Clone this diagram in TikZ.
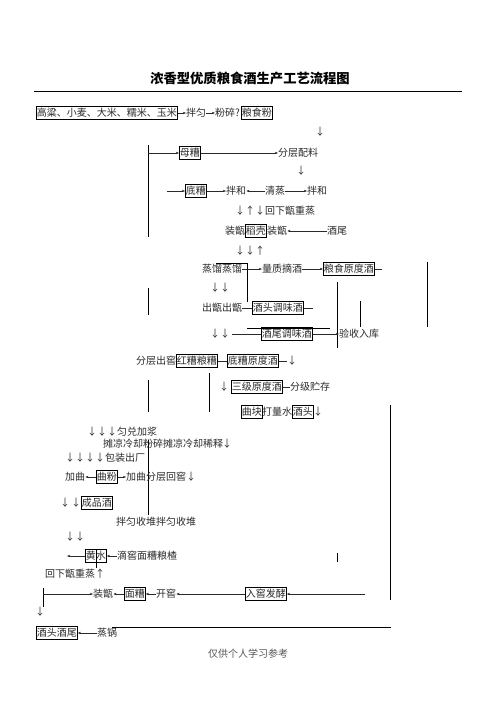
\documentclass[tikz,border=0pt]{standalone}
\usepackage{fontspec}
\setmainfont{Noto Sans CJK SC}
\usetikzlibrary{arrows.meta}
\definecolor{ink}{HTML}{2A2A2A}
\definecolor{foot}{HTML}{555555}
\tikzset{
  every node/.style={font=\fontsize{10bp}{12bp}\selectfont, text=ink},
  txt/.style={anchor=west, inner sep=0pt, text height=8.5bp, text depth=1.5bp},
  bx/.style={txt, draw=black, line width=0.75pt, inner xsep=0.5bp, inner ysep=1.2bp},
  glyph/.style={inner sep=0pt, text height=8.5bp, text depth=1.5bp},
  arr/.style={draw=ink, line width=0.45pt, -{Stealth[length=3.2bp,width=2.4bp]}},
  ln/.style={draw=ink, line width=0.45pt},
  bar/.style={draw=black, line width=0.9pt}
}
\begin{document}
\begin{tikzpicture}[x=1bp, y=-1bp]
\useasboundingbox (0,0) rectangle (496,702);
% title
\node[font=\bfseries\fontsize{13.3bp}{15bp}\selectfont, text=black] (title) at (250,78) {浓香型优质粮食酒生产工艺流程图};
\draw[line width=0.9pt] (34,91) -- (462,91);

% row 1
\node[bx] (grain) at (36,113) {高粱、小麦、大米、糯米、玉米};
\node[txt] (banyun) at (186,113) {拌匀};
\node[txt] (fensui) at (215,113) {粉碎?};
\node[bx] (lsf) at (241,113) {粮食粉};
\draw[arr] (grain.east) -- (banyun.west);
\draw[arr] (banyun.east) -- (fensui.west);
\node[glyph] (d1) at (320,132) {↓};

% row 2
\draw[bar] (148,145) -- (148,237);
\coordinate (m0) at (148,153);
\node[bx] (muzao) at (179,153) {母糟};
\node[txt] (fcpl) at (278,153) {分层配料};
\draw[arr] (m0) -- (muzao.west);
\draw[arr] (muzao.east) -- (fcpl.west);
\node[glyph] (d2) at (301,171) {↓};

% row 3
\coordinate (dz0) at (167,191);
\node[bx] (dizao) at (185,191) {底糟};
\node[txt] (bh1) at (226,191) {拌和};
\node[txt] (qz) at (265,191) {清蒸};
\node[txt] (bh2) at (307,191) {拌和};
\draw[arr] (dz0) -- (dizao.west);
\draw[arr] (dizao.east) -- (bh1.west);
\draw[arr] (qz.west) -- (bh1.east);
\draw[arr] (qz.east) -- (bh2.west);

% row 4
\node[glyph] (a41) at (240,211) {↓};
\node[glyph] (a42) at (250,211) {↑};
\node[glyph] (a43) at (260,211) {↓};
\node[txt] (hxzz1) at (265,211) {回下甑重蒸};

% row 5
\node[txt] (zz1) at (225,231) {装甑};
\node[bx] (dk) at (245,231) {稻壳};
\node[txt] (zz2) at (267,231) {装甑};
\node[txt] (jw) at (327,231) {酒尾};
\draw[arr] (jw.west) -- (zz2.east);

% row 6
\node[glyph] (a61) at (240,251) {↓};
\node[glyph] (a62) at (250,251) {↓};
\node[glyph] (a63) at (260,251) {↑};

% row 7
\node[txt] (zl) at (202,269) {蒸馏蒸馏};
\draw[bar, line width=0.7pt] (216,263) -- (247,263) -- (247,302);
\node[txt] (lzzj) at (262,269) {量质摘酒};
\node[bx] (lsyd) at (323,269) {粮食原度酒};
\coordinate (lsyd1) at (382,269);
\draw[arr] (zl.east) -- (lzzj.west);
\draw[arr] (lzzj.east) -- (lsyd.west);
\draw[ln] (lsyd.east) -- (lsyd1);

% row 8
\node[glyph] (a81) at (215,288) {↓};
\node[glyph] (a82) at (225,288) {↓};
\draw[bar] (148,288) -- (148,315);

% row 9
\node[txt] (cz) at (202,308) {出甑出甑};
\node[bx] (jttw) at (252,308) {酒头调味酒};
\coordinate (jttw1) at (313,308);
\draw[ln] (cz.east) -- (jttw.west);
\draw[ln] (jttw.east) -- (jttw1);

% right verticals
\draw[bar] (337,282) -- (337,348);
\draw[bar] (360,301) -- (360,327);
\draw[bar] (427,262) -- (427,327);

% row 10
\node[glyph] (a101) at (215,334) {↓};
\node[glyph] (a102) at (225,334) {↓};
\coordinate (jwt0) at (232,334);
\node[bx] (jwtw) at (261,334) {酒尾调味酒};
\node[txt] (ysrk) at (339,334) {验收入库};
\draw[ln] (jwt0) -- (jwtw.west);
\draw[arr] (jwtw.east) -- (ysrk.west);
\draw[bar, line width=0.7pt] (247,328) -- (330,328);

% row 11
\node[txt] (fccj) at (136,361) {分层出窖};
\node[bx] (hzlz) at (176,361) {红糟粮糟};
\node[bx] (dzyd) at (227,361) {底糟原度酒};
\node[glyph] (a111) at (292,361) {↓};
\draw[ln] (hzlz.east) -- (dzyd.west);
\draw[ln] (dzyd.east) -- (287,361);
\draw[bar] (209,373) -- (209,412);
\draw[bar] (148,380) -- (148,412);

% row 12
\node[glyph] (a121) at (224,387) {↓};
\node[bx] (sjyd) at (231,387) {三级原度酒};
\node[txt] (fjzc) at (290,387) {分级贮存};
\draw[ln] (sjyd.east) -- (fjzc.west);

% row 13
\node[bx] (qk) at (241,412) {曲块};
\node[txt] (dls) at (262,412) {打量水};
\node[bx] (jt) at (292,412) {酒头};
\node[glyph] (a131) at (318,412) {↓};
\draw[bar] (390,405) -- (390,600);

% row 14
\node[glyph] (a141) at (92,432) {↓};
\node[glyph] (a142) at (102,432) {↓};
\node[glyph] (a143) at (112,432) {↓};
\node[txt] (ydjj) at (117,432) {匀兑加浆};

% row 15
\node[txt] (tl) at (103,444) {摊凉冷却粉碎摊凉冷却稀释};
\node[glyph] (a151) at (227,444) {↓};
\draw[bar] (148,440) -- (148,515);

% row 16
\node[glyph] (a161) at (70,458) {↓};
\node[glyph] (a162) at (80,458) {↓};
\node[glyph] (a163) at (90,458) {↓};
\node[glyph] (a164) at (100,458) {↓};
\node[txt] (bzcc) at (105,458) {包装出厂};

% row 17
\node[txt] (jq1) at (65,477) {加曲};
\node[bx] (qf) at (96,477) {曲粉};
\node[txt] (jqfc) at (126,477) {加曲分层回窖};
\node[glyph] (a171) at (191,477) {↓};
\draw[arr] (qf.west) -- (jq1.east);
\draw[arr] (qf.east) -- (jqfc.west);

% row 18
\node[glyph] (a181) at (65,503) {↓};
\node[glyph] (a182) at (76,503) {↓};
\node[bx] (cpj) at (81,503) {成品酒};

% row 19
\node[txt] (byst) at (116,522) {拌匀收堆拌匀收堆};

% row 20
\node[glyph] (a201) at (70,537) {↓};
\node[glyph] (a202) at (80,537) {↓};

% row 21
\coordinate (hs0) at (67,556);
\node[bx] (hs) at (85,556) {黄水};
\node[txt] (djm) at (117,556) {滴窖面糟粮楂};
\draw[arr] (hs.west) -- (hs0);
\draw[arr] (djm.west) -- (hs.east);
\draw[bar] (96,549) -- (96,568);
\draw[bar] (337,553) -- (337,562);

% row 22
\node[txt] (hxzz2) at (45,574) {回下甑重蒸};
\node[glyph] (a221) at (100,574) {↑};

% row 23
\draw[bar] (43,588) -- (43,607);
\coordinate (zz30) at (43,594);
\node[txt] (zz3) at (93,594) {装甑};
\node[bx] (mz) at (124,594) {面糟};
\node[txt] (kj) at (156,594) {开窖};
\node[bx] (rjfj) at (245,594) {入窖发酵};
\coordinate (rj1) at (365,594);
\draw[arr] (zz30) -- (zz3.west);
\draw[arr] (mz.west) -- (zz3.east);
\draw[arr] (kj.west) -- (mz.east);
\draw[arr] (rjfj.west) -- (kj.east);
\draw[arr] (rj1) -- (rjfj.east);

% row 24
\node[glyph] (a241) at (40,612) {↓};

% row 25
\draw[line width=0.9pt] (112,627) -- (391,627);
\node[bx] (jtjw) at (36,633) {酒头酒尾};
\node[txt] (zg) at (97,633) {蒸锅};
\draw[arr] (zg.west) -- (jtjw.east);

% footer
\node[txt, text=foot] (foot) at (208,654) {仅供个人学习参考};
\end{tikzpicture}
\end{document}
